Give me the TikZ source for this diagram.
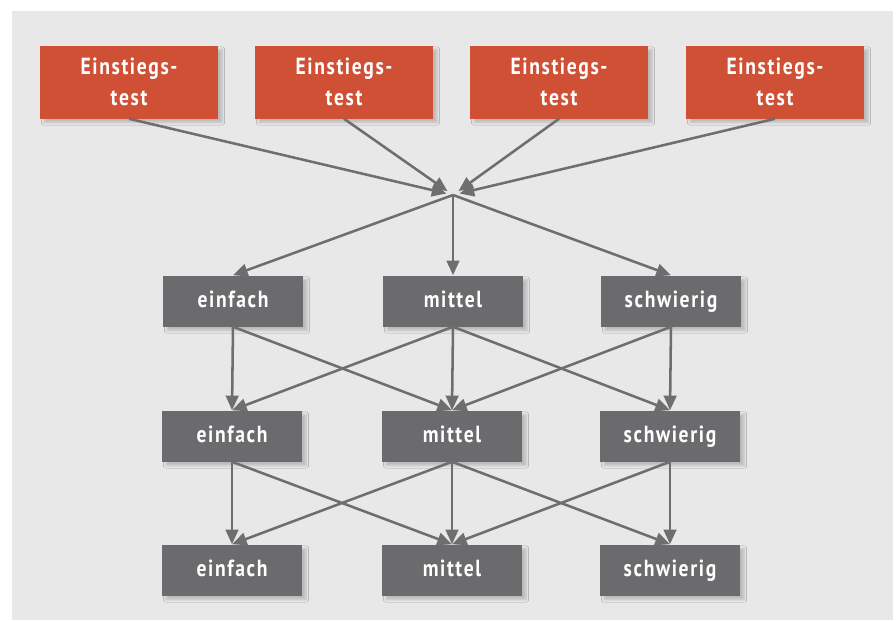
\documentclass[tikz,border=0pt]{standalone}
\usepackage{fontspec}
\setmainfont[FakeStretch=0.84, LetterSpace=7]{PT Sans}
\usetikzlibrary{arrows.meta, shadows.blur}
\definecolor{PanelGrey}{HTML}{E8E8E8}
\definecolor{TestRed}{HTML}{CF5034}
\definecolor{LevelGrey}{HTML}{6B6B6D}
\definecolor{LinkGrey}{HTML}{6E6E70}

\tikzset{
  testbox/.style={fill=TestRed, text=white, align=center,
    minimum width=133.5pt, minimum height=54.75pt, inner sep=0pt,
    font=\fontsize{17.5}{23}\selectfont\bfseries,
    blur shadow={shadow xshift=3pt, shadow yshift=-3pt, shadow blur steps=6, shadow opacity=20}},
  levelbox/.style={fill=LevelGrey, text=white,
    minimum width=105pt, minimum height=38.25pt, inner sep=0pt,
    text height=12.5pt, text depth=3.5pt,
    font=\fontsize{17.5}{20}\selectfont\bfseries,
    blur shadow={shadow xshift=3pt, shadow yshift=-3pt, shadow blur steps=6, shadow opacity=20}},
  link/.style={draw=LinkGrey, line width=1.9pt,
    -{Triangle[length=11pt, width=9.5pt]}}
}

\begin{document}
\begin{tikzpicture}[x=0.75pt, y=-0.75pt]
  % panel
  \fill[white] (0,0) rectangle (896,621);
  \fill[PanelGrey] (12,11) rectangle (893,620);

  % entry tests
  \node[testbox] (test1) at (129,82) {Einstiegs-\\test};
  \node[testbox] (test2) at (344,82) {Einstiegs-\\test};
  \node[testbox] (test3) at (559,82) {Einstiegs-\\test};
  \node[testbox] (test4) at (775,82) {Einstiegs-\\test};

  \coordinate (hub) at (453,195);

  % levels
  \node[levelbox] (easyA) at (233,301) {einfach};
  \node[levelbox] (midA)  at (453,301) {mittel};
  \node[levelbox] (hardA) at (671,301) {schwierig};

  \node[levelbox] (easyB) at (232,436) {einfach};
  \node[levelbox] (midB)  at (452,436) {mittel};
  \node[levelbox] (hardB) at (670,436) {schwierig};

  \node[levelbox] (easyC) at (232,570) {einfach};
  \node[levelbox] (midC)  at (452,570) {mittel};
  \node[levelbox] (hardC) at (670,570) {schwierig};

  % tests to hub
  \foreach \t in {test1,test2,test3,test4}
    \draw[link, shorten >=5pt] (\t.south) -- (hub);

  % hub to first level
  \foreach \l in {easyA,midA,hardA}
    \draw[link] (hub) -- (\l.north);

  % level changes
  \foreach \a/\b in {A/B,B/C}{
    \draw[link] (easy\a.south) -- (easy\b.north);
    \draw[link] (easy\a.south) -- (mid\b.north);
    \draw[link] (mid\a.south) -- (easy\b.north);
    \draw[link] (mid\a.south) -- (mid\b.north);
    \draw[link] (mid\a.south) -- (hard\b.north);
    \draw[link] (hard\a.south) -- (mid\b.north);
    \draw[link] (hard\a.south) -- (hard\b.north);
  }
\end{tikzpicture}
\end{document}
